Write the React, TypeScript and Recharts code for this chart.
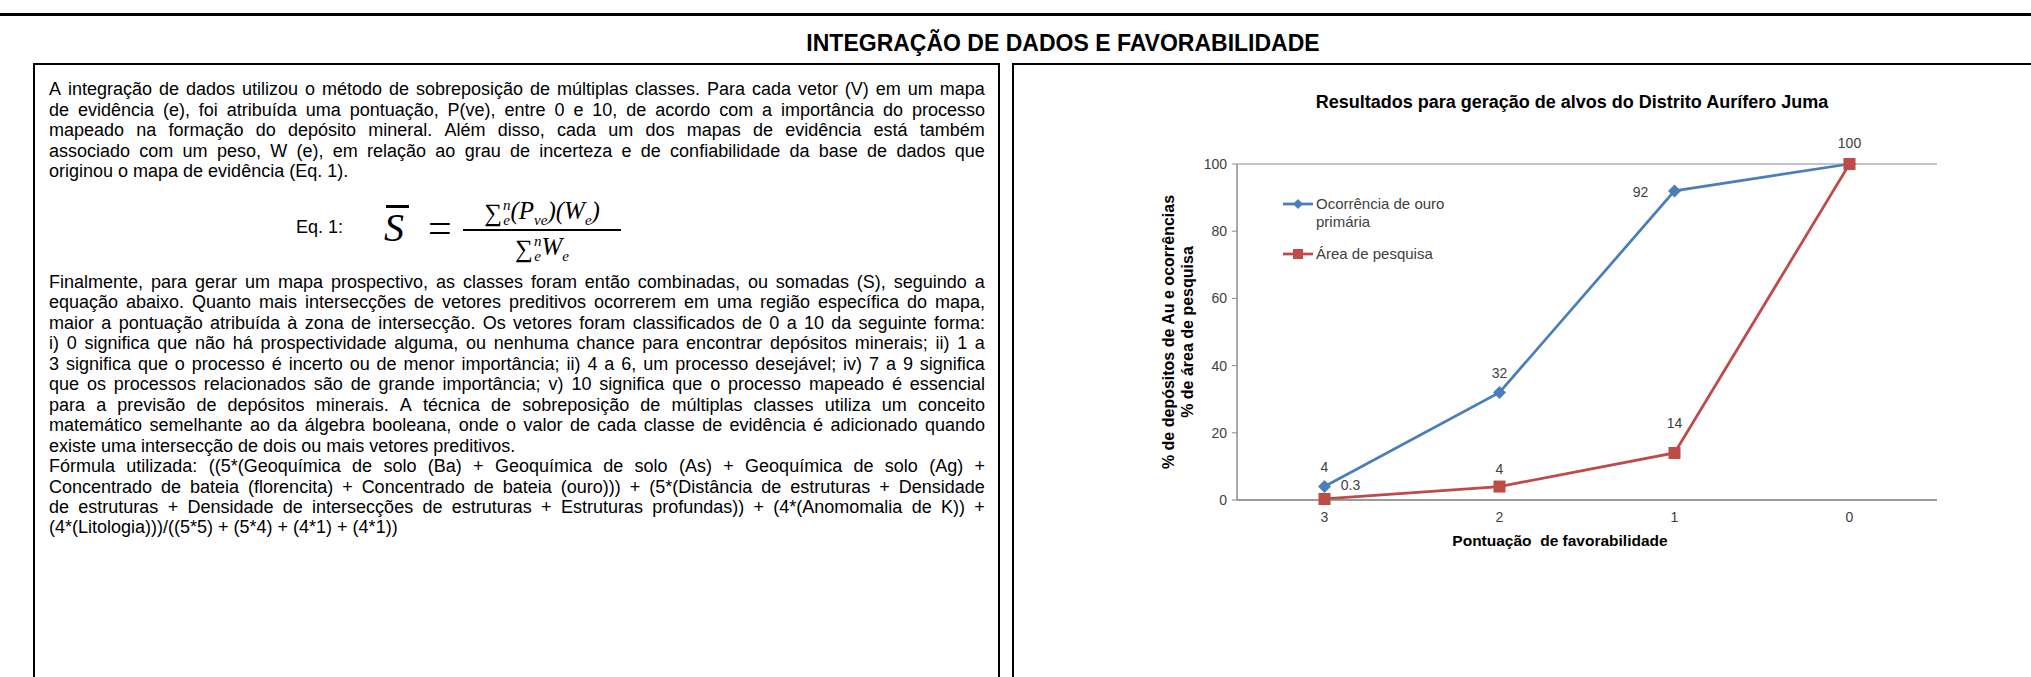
import React from 'react';
import { LineChart, Line, XAxis, YAxis, CartesianGrid, LabelList, Legend } from 'recharts';

// ---------- chart data ----------
const categories = ['3', '2', '1', '0'];
const ouroValues = [4, 32, 92, 100];
const areaValues = [0.3, 4, 14, 100];
const yTicks = [0, 20, 40, 60, 80, 100];
const seriesNames = ['Ocorrência de ouro primária', 'Área de pesquisa'];
const chartTitle = 'Resultados para geração de alvos do Distrito Aurífero Juma';
const xAxisTitle = 'Pontuação  de favorabilidade';
const yAxisTitleLines = ['% de depósitos de Au e ocorrências', '% de área de pesquisa'];
const panelTitle = 'INTEGRAÇÃO DE DADOS E FAVORABILIDADE';

// ---------- left panel text ----------
const para1 = [
  'A integração de dados utilizou o método de sobreposição de múltiplas classes. Para cada vetor (V) em um mapa',
  'de evidência (e), foi atribuída uma pontuação, P(ve), entre 0 e 10, de acordo com a importância do processo',
  'mapeado na formação do depósito mineral. Além disso, cada um dos mapas de evidência está também',
  'associado com um peso, W (e), em relação ao grau de incerteza e de confiabilidade da base de dados que',
  'originou o mapa de evidência (Eq. 1).',
];
const para2 = [
  'Finalmente, para gerar um mapa prospectivo, as classes foram então combinadas, ou somadas (S), seguindo a',
  'equação abaixo. Quanto mais intersecções de vetores preditivos ocorrerem em uma região específica do mapa,',
  'maior a pontuação atribuída à zona de intersecção. Os vetores foram classificados de 0 a 10 da seguinte forma:',
  'i) 0 significa que não há prospectividade alguma, ou nenhuma chance para encontrar depósitos minerais; ii) 1 a',
  '3 significa que o processo é incerto ou de menor importância; ii) 4 a 6, um processo desejável; iv) 7 a 9 significa',
  'que os processos relacionados são de grande importância; v) 10 significa que o processo mapeado é essencial',
  'para a previsão de depósitos minerais. A técnica de sobreposição de múltiplas classes utiliza um conceito',
  'matemático semelhante ao da álgebra booleana, onde o valor de cada classe de evidência é adicionado quando',
  'existe uma intersecção de dois ou mais vetores preditivos.',
  'Fórmula utilizada: ((5*(Geoquímica de solo (Ba) + Geoquímica de solo (As) + Geoquímica de solo (Ag) +',
  'Concentrado de bateia (florencita) +  Concentrado de bateia (ouro))) + (5*(Distância de estruturas + Densidade',
  'de estruturas + Densidade de intersecções de estruturas + Estruturas profundas)) + (4*(Anomomalia de K)) +',
  '(4*(Litologia)))/((5*5) + (5*4) + (4*1) + (4*1))',
];
const para1Last = [4];
const para2Last = [8, 12];

const data = categories.map((c, i) => ({ cat: c, ouro: ouroValues[i], area: areaValues[i] }));

const SANS = '"Liberation Sans", Arial, sans-serif';
const SERIF = '"Liberation Serif", "DejaVu Serif", serif';
const BLUE = '#4A7EBB';
const RED = '#BE4B48';
const GRID = '#8C8C8C';
const TXT = '#404040';

const ouroLabelOffsets: (number[] | null)[] = [[0, -20], [0, -20], [-34, 1], null];
const areaLabelOffsets: (number[] | null)[] = [[26, -14], [0, -18], [0, -30], [0, -21]];

const makeLabel = (offsets: (number[] | null)[]) => (props: any) => {
  const vb = props.viewBox || {};
  const x = props.x ?? vb.x;
  const y = props.y ?? vb.y;
  const off = offsets[props.index];
  if (!off || x == null || y == null) return null;
  return (
    <text x={x + off[0]} y={y + off[1]} dy="0.36em" textAnchor="middle" fontSize={14} fill={TXT} fontFamily={SANS}>
      {props.value}
    </text>
  );
};

const diamondDot = (p: any) => {
  const { cx, cy, index } = p;
  if (cx == null || cy == null) return <g key={`d${index}`} />;
  const r = 6.5;
  return <path key={`d${index}`} d={`M${cx},${cy - r}L${cx + r},${cy}L${cx},${cy + r}L${cx - r},${cy}Z`} fill={BLUE} />;
};
const squareDot = (p: any) => {
  const { cx, cy, index } = p;
  if (cx == null || cy == null) return <g key={`s${index}`} />;
  const r = 6;
  return <rect key={`s${index}`} x={cx - r} y={cy - r} width={2 * r} height={2 * r} fill={RED} />;
};

const legendItems = [
  { name: seriesNames[0], color: BLUE, shape: 'diamond' },
  { name: seriesNames[1], color: RED, shape: 'square' },
];

const renderLegend = () => (
  <div style={{ fontFamily: SANS, fontSize: 15, color: TXT, lineHeight: '18px' }}>
    {legendItems.map((it, i) => (
      <div key={i} style={{ display: 'flex', alignItems: 'flex-start', marginBottom: i === 0 ? 14 : 0 }}>
        <svg width={32} height={18} style={{ flex: 'none' }}>
          <line x1={0} y1={9} x2={30} y2={9} stroke={it.color} strokeWidth={2.75} />
          {it.shape === 'diamond' ? (
            <path d="M15,4L20,9L15,14L10,9Z" fill={it.color} />
          ) : (
            <rect x={10} y={4} width={10} height={10} fill={it.color} />
          )}
        </svg>
        <div style={{ width: 140, marginLeft: 1 }}>{it.name}</div>
      </div>
    ))}
  </div>
);

const TextLine = ({ text, top, justify }: { text: string; top: number; justify: boolean }) => {
  const base: React.CSSProperties = {
    position: 'absolute', left: 49, top, width: 936, height: 20.5,
    fontFamily: SANS, fontSize: 18, lineHeight: '20.5px', color: '#000', whiteSpace: 'pre',
  };
  if (!justify) return <div style={base}>{text}</div>;
  const words = text.split(/\s+/);
  return (
    <div style={{ ...base, display: 'flex', justifyContent: 'space-between' }}>
      {words.map((w, j) => <span key={j}>{w}</span>)}
    </div>
  );
};

const Sum = ({ size }: { size: number }) => (
  <span style={{ display: 'inline-flex', alignItems: 'center', verticalAlign: 'middle' }}>
    <span style={{ fontFamily: SERIF, fontSize: size, fontStyle: 'normal' }}>∑</span>
    <span style={{ display: 'inline-flex', flexDirection: 'column', fontSize: size * 0.6, lineHeight: 1, fontStyle: 'italic', marginLeft: 1 }}>
      <span>n</span>
      <span>e</span>
    </span>
  </span>
);

export default function App() {
  return (
    <div style={{ position: 'relative', width: 2031, height: 677, background: '#fff', overflow: 'hidden' }}>
      <style>{'body{margin:0;}'}</style>
      {/* top rule */}
      <div style={{ position: 'absolute', left: 0, top: 13, width: 2031, height: 3, background: '#000' }} />
      {/* panel title */}
      <div style={{ position: 'absolute', left: 563, top: 29, width: 1000, textAlign: 'center', fontFamily: SANS, fontWeight: 700, fontSize: 23, lineHeight: '28px', color: '#000' }}>
        {panelTitle}
      </div>
      {/* left box */}
      <div style={{ position: 'absolute', left: 33, top: 63, width: 967, height: 700, border: '2px solid #000', boxSizing: 'border-box' }} />
      {/* right box */}
      <div style={{ position: 'absolute', left: 1012, top: 63, width: 1100, height: 700, border: '2px solid #000', boxSizing: 'border-box' }} />

      {/* left text */}
      {para1.map((t, i) => (
        <TextLine key={`a${i}`} text={t} top={79 + 20.5 * i} justify={!para1Last.includes(i)} />
      ))}
      {para2.map((t, i) => (
        <TextLine key={`b${i}`} text={t} top={272 + 20.45 * i} justify={!para2Last.includes(i)} />
      ))}

      {/* equation */}
      <div style={{ position: 'absolute', left: 296, top: 217, fontFamily: SANS, fontSize: 18, lineHeight: '20.5px' }}>Eq. 1:</div>
      <div style={{ position: 'absolute', left: 386, top: 205, width: 23, height: 2.5, background: '#000' }} />
      <div style={{ position: 'absolute', left: 384, top: 203, fontFamily: SERIF, fontStyle: 'italic', fontSize: 40, lineHeight: '50px' }}>S</div>
      <div style={{ position: 'absolute', left: 428, top: 204, fontFamily: SERIF, fontSize: 42, lineHeight: '48px' }}>=</div>
      <div style={{ position: 'absolute', left: 459, top: 195, width: 166, textAlign: 'center', fontFamily: SERIF, fontStyle: 'italic', fontSize: 25, lineHeight: '32px', whiteSpace: 'nowrap' }}>
        <Sum size={25} />(<span>P</span><sub style={{ fontSize: 15 }}>ve</sub>)(<span>W</span><sub style={{ fontSize: 15 }}>e</sub>)
      </div>
      <div style={{ position: 'absolute', left: 463, top: 229, width: 158, height: 1.5, background: '#000' }} />
      <div style={{ position: 'absolute', left: 459, top: 231, width: 166, textAlign: 'center', fontFamily: SERIF, fontStyle: 'italic', fontSize: 25, lineHeight: '32px', whiteSpace: 'nowrap' }}>
        <Sum size={25} /><span>W</span><sub style={{ fontSize: 15 }}>e</sub>
      </div>

      {/* chart title */}
      <div style={{ position: 'absolute', left: 1272, top: 91, width: 600, textAlign: 'center', fontFamily: SANS, fontWeight: 700, fontSize: 18, lineHeight: '22px', color: '#000' }}>
        {chartTitle}
      </div>
      {/* y axis title */}
      <div style={{ position: 'absolute', left: 1178 - 160, top: 332 - 19, width: 320, height: 38, transform: 'rotate(-90deg)', transformOrigin: '160px 19px', textAlign: 'center', fontFamily: SANS, fontWeight: 700, fontSize: 16, lineHeight: '19px', color: '#000' }}>
        {yAxisTitleLines.map((l, i) => <div key={i}>{l}</div>)}
      </div>
      {/* x axis title */}
      <div style={{ position: 'absolute', left: 1360, top: 531, width: 400, textAlign: 'center', fontFamily: SANS, fontWeight: 700, fontSize: 15.5, lineHeight: '20px', color: '#000', whiteSpace: 'pre' }}>
        {xAxisTitle}
      </div>

      <div style={{ position: 'absolute', left: 1100, top: 80 }}>
        <LineChart width={900} height={520} data={data} margin={{ top: 84, right: 63, bottom: 70, left: 77 }}>
          <CartesianGrid vertical={false} stroke={GRID} strokeWidth={1} />
          <XAxis dataKey="cat" scale="band" tickLine={false} axisLine={{ stroke: GRID, strokeWidth: 1.5 }} tickSize={6} tickMargin={6}
            tick={{ fill: TXT, fontSize: 14, fontFamily: SANS }} height={30} />
          <YAxis yAxisId="l" domain={[0, 100]} ticks={yTicks} width={60} tickSize={5} tickMargin={5}
            axisLine={{ stroke: GRID, strokeWidth: 1.5 }} tickLine={{ stroke: GRID }}
            tick={{ fill: TXT, fontSize: 14, fontFamily: SANS }} />
          <YAxis yAxisId="r" orientation="right" domain={[0, 100]} ticks={yTicks} width={0} tick={false} tickLine={false}
            axisLine={{ stroke: GRID, strokeWidth: 1.5 }} />
          <Legend layout="vertical" align="center" verticalAlign="middle" content={renderLegend}
            wrapperStyle={{ position: 'absolute', left: 183, top: 115, width: 200, height: 70 }} />
          <Line yAxisId="l" type="linear" dataKey="ouro" name={seriesNames[0]} stroke={BLUE} strokeWidth={2.75}
            dot={diamondDot} activeDot={false} isAnimationActive={false}>
            <LabelList dataKey="ouro" content={makeLabel(ouroLabelOffsets)} />
          </Line>
          <Line yAxisId="l" type="linear" dataKey="area" name={seriesNames[1]} stroke={RED} strokeWidth={2.75}
            dot={squareDot} activeDot={false} isAnimationActive={false}>
            <LabelList dataKey="area" content={makeLabel(areaLabelOffsets)} />
          </Line>
        </LineChart>
      </div>
    </div>
  );
}
